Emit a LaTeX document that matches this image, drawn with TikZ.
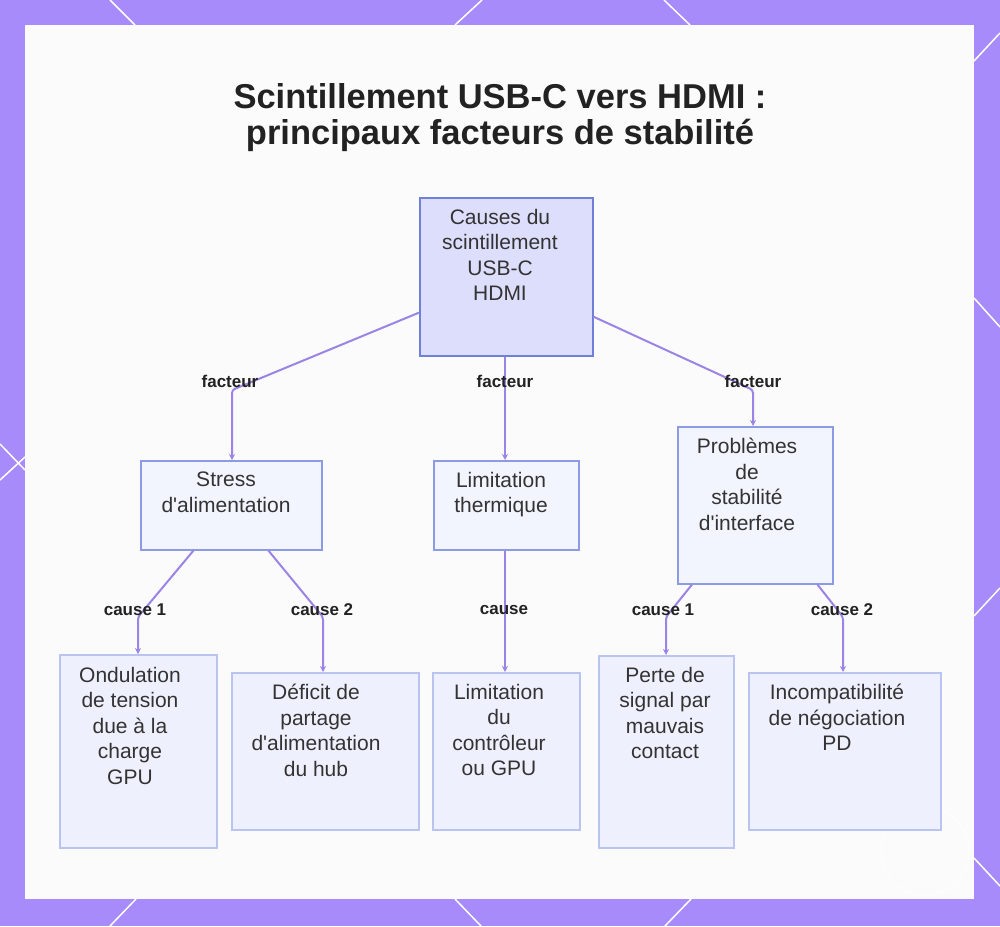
\documentclass[tikz,border=0pt]{standalone}
\usepackage{fontspec}
\setmainfont{Liberation Sans}[Ligatures=TeXOff]
\usetikzlibrary{arrows.meta}
\definecolor{bordc}{HTML}{A78BFA}
\definecolor{panelc}{HTML}{FBFBFC}
\definecolor{edgec}{HTML}{9B84E6}
\definecolor{rootfill}{HTML}{DCDEFB}
\definecolor{rootdraw}{HTML}{7080D8}
\definecolor{midfill}{HTML}{F2F4FE}
\definecolor{middraw}{HTML}{8C9BE3}
\definecolor{leaffill}{HTML}{EEF1FD}
\definecolor{leafdraw}{HTML}{BAC4F0}
\definecolor{txtc}{HTML}{333333}
\definecolor{titlec}{HTML}{222222}
\begin{document}
\begin{tikzpicture}[x=1pt,y=-1pt,
  boxbase/.style={rectangle, inner sep=0pt, anchor=north west, line width=1.5pt},
  rootbox/.style={boxbase, fill=rootfill, draw=rootdraw},
  midbox/.style={boxbase, fill=midfill, draw=middraw},
  leafbox/.style={boxbase, fill=leaffill, draw=leafdraw},
  boxtext/.style={anchor=north, inner sep=0pt, align=center, text=txtc,
    font=\fontsize{21}{25.5}\selectfont},
  edgelabel/.style={inner sep=0pt, text=titlec, font=\fontsize{17}{20}\selectfont\bfseries},
  edge/.style={draw=edgec, line width=2pt, rounded corners=3pt,
    -{Stealth[length=6pt,width=6pt]}},
  deco/.style={draw=white, line width=1.5pt}
]
\useasboundingbox (0,0) rectangle (1000,926);
\fill[bordc] (0,0) rectangle (1000,926);
% decorative lines on the border
\draw[deco] (110,0) -- (135,25);
\draw[deco] (482,0) -- (455,25);
\draw[deco] (664,0) -- (690,25);
\draw[deco] (974,61) -- (1000,33);
\draw[deco] (974,298) -- (1000,327);
\draw[deco] (974,616) -- (1000,588);
\draw[deco] (974,858) -- (1000,886);
\draw[deco] (0,444) -- (25,470);
\draw[deco] (0,480) -- (25,457);
\draw[deco] (136,899) -- (110,926);
\draw[deco] (455,899) -- (481,926);
\draw[deco] (691,899) -- (665,926);
% panel
\fill[panelc] (25,25) rectangle (974,899);
\draw[white, line width=0.8pt, opacity=0.9] (925,851) circle (44);

% title
\node[anchor=north, inner sep=0pt, align=center, text=titlec,
  font=\fontsize{34.5}{36}\selectfont\bfseries] (title) at (500,83)
  {Scintillement USB-C vers HDMI :\\principaux facteurs de stabilité};

% boxes
\node[rootbox, minimum width=173pt, minimum height=158pt] (root) at (419,197) {};
\node[boxtext] at (500,209) {Causes du\\scintillement\\USB-C\\HDMI};

\node[midbox, minimum width=181pt, minimum height=89pt] (stress) at (140,460) {};
\node[boxtext] at (226,472) {Stress\\d'alimentation};

\node[midbox, minimum width=145pt, minimum height=89pt] (therm) at (433,460) {};
\node[boxtext] at (501,472) {Limitation\\thermique};

\node[midbox, minimum width=155pt, minimum height=157pt] (prob) at (677,426) {};
\node[boxtext] at (747,438) {Problèmes\\de\\stabilité\\d'interface};

\node[leafbox, minimum width=157pt, minimum height=193pt] (ond) at (59,654) {};
\node[boxtext] at (130,667) {Ondulation\\de tension\\due à la\\charge\\GPU};

\node[leafbox, minimum width=187pt, minimum height=157pt] (def) at (231,672) {};
\node[boxtext] at (316,684) {Déficit de\\partage\\d'alimentation\\du hub};

\node[leafbox, minimum width=147pt, minimum height=157pt] (lim) at (432,672) {};
\node[boxtext] at (499,684) {Limitation\\du\\contrôleur\\ou GPU};

\node[leafbox, minimum width=135pt, minimum height=192pt] (perte) at (598,655) {};
\node[boxtext] at (665,667) {Perte de\\signal par\\mauvais\\contact};

\node[leafbox, minimum width=192pt, minimum height=157pt] (inc) at (748,672) {};
\node[boxtext] at (837,684) {Incompatibilité\\de négociation\\PD};

% bend points
\coordinate (f1) at (232,390);
\coordinate (f2) at (505,390);
\coordinate (f3) at (753,390);
\coordinate (c1) at (138,617);
\coordinate (c2) at (323,617);
\coordinate (c3) at (505,617);
\coordinate (c4) at (666,617);
\coordinate (c5) at (843,617);

% edges
\draw[edge] (root) -- (f1) -- (f1 |- stress.north);
\draw[edge] (f2 |- root.south) -- (f2 |- therm.north);
\draw[edge] (root) -- (f3) -- (f3 |- prob.north);
\draw[edge] (stress) -- (c1) -- (c1 |- ond.north);
\draw[edge] (stress) -- (c2) -- (c2 |- def.north);
\draw[edge] (c3 |- therm.south) -- (c3 |- lim.north);
\draw[edge] (prob) -- (c4) -- (c4 |- perte.north);
\draw[edge] (prob) -- (c5) -- (c5 |- inc.north);

% edge labels
\node[edgelabel] (l1) at (230,381) {facteur};
\node[edgelabel] (l2) at (505,381) {facteur};
\node[edgelabel] (l3) at (753,381) {facteur};
\node[edgelabel] (l4) at (135,610) {cause 1};
\node[edgelabel] (l5) at (322,610) {cause 2};
\node[edgelabel] (l6) at (504,610) {cause};
\node[edgelabel] (l7) at (663,610) {cause 1};
\node[edgelabel] (l8) at (842,610) {cause 2};
\end{tikzpicture}
\end{document}
